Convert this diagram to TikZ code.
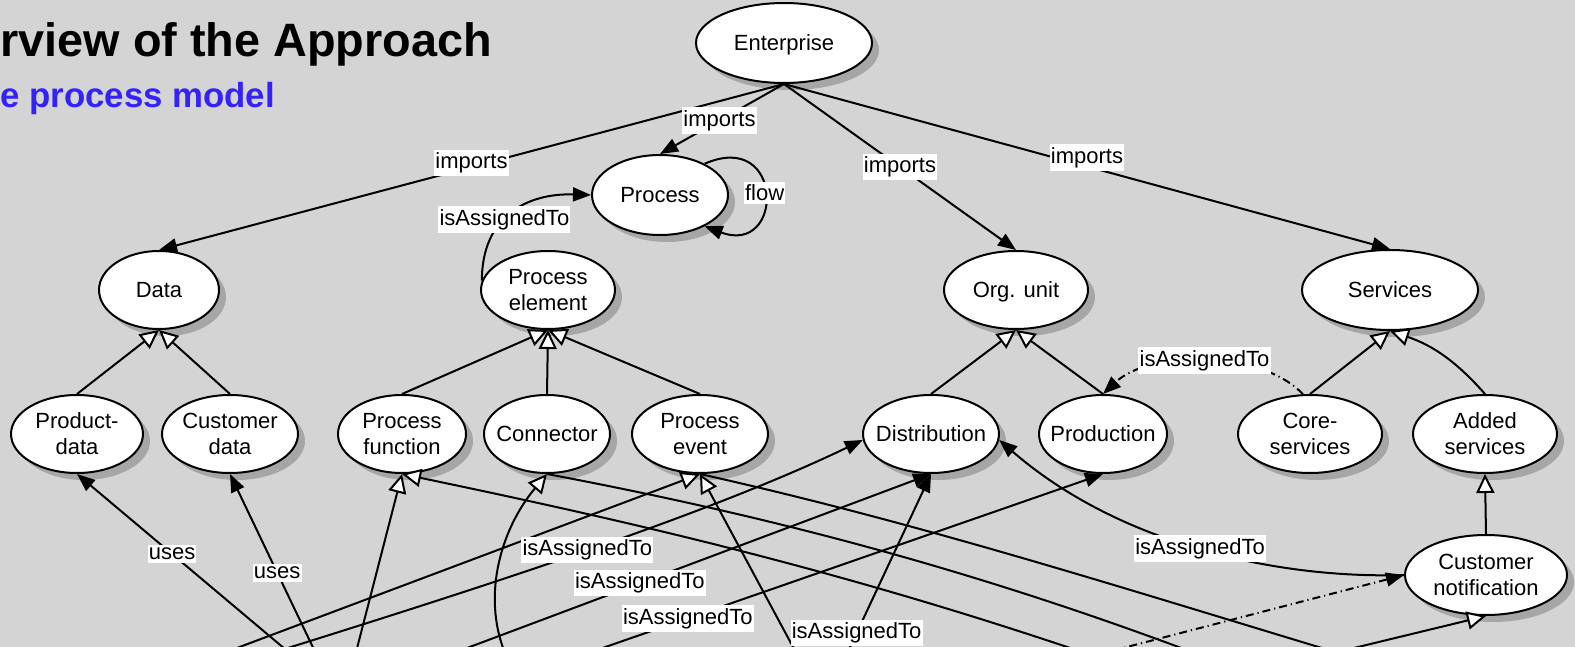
\documentclass[tikz,border=0pt]{standalone}
\usepackage{fontspec}
\setmainfont{Liberation Sans}
\usetikzlibrary{arrows.meta,shapes.geometric,shadows}
\definecolor{bg}{RGB}{212,212,212}
\definecolor{shadowgray}{RGB}{166,166,166}
\definecolor{titleblue}{RGB}{51,34,255}
\tikzset{
  entity/.style={ellipse, draw=black, line width=1pt, fill=white, inner sep=0pt,
     drop shadow={shadow xshift=3.5pt, shadow yshift=-3.5pt, fill=shadowgray, opacity=1}},
  ntext/.style={align=center, inner sep=0pt, font=\fontsize{11}{13}\selectfont},
  lbl/.style={fill=white, inner xsep=0.6pt, inner ysep=1.5pt, font=\fontsize{11}{13}\selectfont},
  link/.style={line width=1pt, black},
  arr/.style={link, -{Triangle[length=9pt,width=7pt]}},
  gen/.style={link, -{Triangle[open, fill=white, length=9.5pt, width=9pt]}},
  dashdot/.style={dash pattern=on 4pt off 2pt on 0.6pt off 2pt},
}
\begin{document}
\begin{tikzpicture}[x=0.5pt,y=-0.5pt]
\useasboundingbox (0,0) rectangle (1575,647);
\fill[bg] (0,0) rectangle (1575,647);
\begin{scope}
\clip (0,0) rectangle (1575,647);

% title
\node[anchor=base west, inner sep=0pt, font=\fontsize{23.4}{27}\selectfont\bfseries] (title) at (0,57) {rview of the Approach};
\node[anchor=base west, inner sep=0pt, text=titleblue, font=\fontsize{17.4}{20}\selectfont\bfseries] (subtitle) at (0,108) {e process model};

% nodes
\node[entity, minimum width=88pt, minimum height=40pt, label={[ntext, text depth=0pt]center:Enterprise}] (ent) at (784,43) {};
\node[entity, minimum width=68pt, minimum height=40pt, label={[ntext]center:Process}] (proc) at (660,195) {};
\node[entity, minimum width=60pt, minimum height=39pt, label={[ntext]center:Data}] (data) at (159,290) {};
\node[entity, minimum width=67pt, minimum height=39pt, label={[ntext]center:{Process\\element}}] (pe) at (548,290) {};
\node[entity, minimum width=72pt, minimum height=39pt, label={[ntext, text depth=0pt]center:Org. unit}] (org) at (1016,290) {};
\node[entity, minimum width=88pt, minimum height=40pt, label={[ntext]center:Services}] (serv) at (1390,290) {};
\node[entity, minimum width=66pt, minimum height=39pt, label={[ntext]center:{Product-\\data}}] (pd) at (77,434) {};
\node[entity, minimum width=68pt, minimum height=39pt, label={[ntext]center:{Customer\\data}}] (cd) at (230,434) {};
\node[entity, minimum width=64pt, minimum height=39pt, label={[ntext]center:{Process\\function}}] (pf) at (402,434) {};
\node[entity, minimum width=63pt, minimum height=39pt, label={[ntext]center:Connector}] (conn) at (547,434) {};
\node[entity, minimum width=68pt, minimum height=39pt, label={[ntext]center:{Process\\event}}] (pev) at (700,434) {};
\node[entity, minimum width=68pt, minimum height=39pt, label={[ntext]center:Distribution}] (dist) at (931,434) {};
\node[entity, minimum width=64pt, minimum height=39pt, label={[ntext]center:Production}] (prod) at (1103,434) {};
\node[entity, minimum width=72pt, minimum height=39pt, label={[ntext]center:{Core-\\services}}] (core) at (1310,434) {};
\node[entity, minimum width=72pt, minimum height=39pt, label={[ntext]center:{Added\\services}}] (added) at (1485,434) {};
\node[entity, minimum width=81pt, minimum height=40pt, label={[ntext]center:{Customer\\notification}}] (custn) at (1486,575) {};

% free ends below the visible area
\coordinate (u1) at (298,660);
\coordinate (u2) at (319,660);
\coordinate (g1) at (354,660);
\coordinate (la) at (205,660);
\coordinate (g5) at (800,660);
\coordinate (g3) at (508,660);
\coordinate (lb) at (275,652);
\coordinate (lc) at (435,660);
\coordinate (lp) at (568,660);
\coordinate (ld) at (844,660);
\coordinate (r1) at (1085,653);
\coordinate (r2) at (1192,652);
\coordinate (r3) at (1335,652);
\coordinate (g6) at (1325,655);
\coordinate (dd) at (1096,655);

% imports
\draw[arr] (ent.south) -- (proc.north) coordinate[pos=0.52] (t1);
\draw[arr] (ent.south) -- (data.north) coordinate[pos=0.5] (t2);
\draw[arr] (ent.south) -- (org.north) coordinate[pos=0.5] (t3);
\draw[arr] (ent.south) -- (serv.north) coordinate[pos=0.5] (t4);

% flow loop
\draw[arr] (proc.35) .. controls +(80,-35) and +(80,30) .. (proc.-35) coordinate[pos=0.5] (t5);

% process element assigned to process
\draw[arr] (pe.172) .. controls +(0,-66) and +(-62,-2) .. (proc.west) coordinate[pos=0.42] (t6);

% generalisations
\draw[gen] (pd.north) -- (data.south);
\draw[gen] (cd.north) -- (data.south);
\draw[gen] (pf.north) -- (pe.south);
\draw[gen] (conn.north) -- (pe.south);
\draw[gen] (pev.north) -- (pe.south);
\draw[gen] (dist.north) -- (org.south);
\draw[gen] (prod.north) -- (org.south);
\draw[gen] (core.north) -- (serv.south);
\draw[gen] (added.north) to[bend right=15] (serv.south);
\draw[gen] (custn.north) -- (added.south);

% lower generalisations
\draw[gen] (g1) -- (pf.south);
\draw[gen] (r1) .. controls (837,569) and (632,522) .. (pf.south);
\draw[gen] (g3) .. controls (480,600) and (500,530) .. (conn.south);
\draw[gen] (la) -- (pev.south);
\draw[gen] (g5) -- (pev.south);
\draw[gen] (g6) -- (custn.south);

% other lines
\draw[link] (conn.south) .. controls (764,515) and (965,567) .. (r2);
\draw[link] (pev.south) .. controls (915,522) and (1110,584) .. (r3);

% uses
\draw[arr] (u1) -- (pd.south) coordinate[pos=0.57] (t7);
\draw[arr] (u2) -- (cd.south) coordinate[pos=0.47] (t8);

% isAssignedTo
\draw[arr] (lb) .. controls (480,588) and (707,515) .. (dist.185) coordinate[pos=0.5] (t9);
\draw[arr] (lc) -- (dist.south) coordinate[pos=0.413] (t10);
\draw[arr] (lp) -- (prod.south) coordinate[pos=0.224] (t11);
\draw[arr] (ld) -- (dist.south) coordinate[pos=0.145] (t12);
\draw[arr] (custn.west) .. controls +(-125,4) and +(121,105) .. (dist.-5) coordinate[pos=0.5] (t13);
\draw[arr, dashdot] (dd) -- (custn.west);
\draw[arr, dashdot] (core.100) .. controls +(-43,-45) and +(47,-44) .. (prod.north) coordinate[pos=0.5] (t14);

% labels
\node[lbl] (l1) at (t1) {imports};
\node[lbl, yshift=2pt] (l2) at (t2) {imports};
\node[lbl] (l3) at (t3) {imports};
\node[lbl, yshift=4.5pt] (l4) at (t4) {imports};
\node[lbl] (l5) at (t5) {flow};
\node[lbl] (l6) at (t6) {isAssignedTo};
\node[lbl] (l7) at (t7) {uses};
\node[lbl] (l8) at (t8) {uses};
\node[lbl] (l9) at (t9) {isAssignedTo};
\node[lbl] (l10) at (t10) {isAssignedTo};
\node[lbl] (l11) at (t11) {isAssignedTo};
\node[lbl] (l12) at (t12) {isAssignedTo};
\node[lbl] (l13) at (t13) {isAssignedTo};
\node[lbl] (l14) at (t14) {isAssignedTo};
\end{scope}
\end{tikzpicture}
\end{document}
